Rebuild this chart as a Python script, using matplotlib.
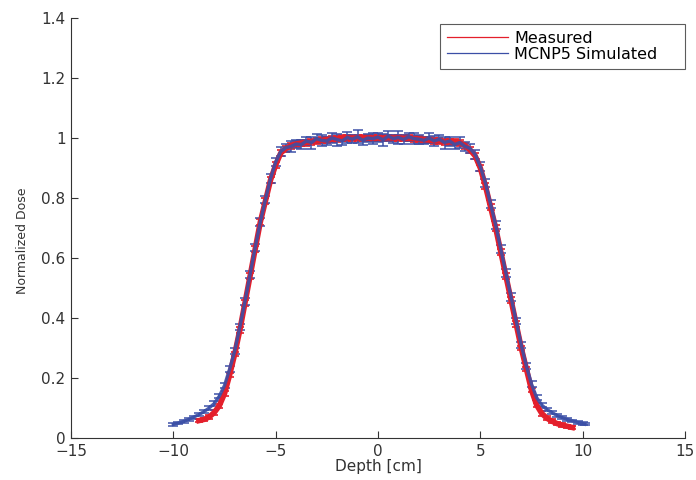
import matplotlib
matplotlib.use("Agg")
import matplotlib.pyplot as plt
from matplotlib.lines import Line2D

# Measured dose profile (red)
meas_depth = [-8.75, -8.5, -8.25, -8.0, -7.75, -7.5, -7.25, -7.0, -6.75, -6.5,
              -6.25, -6.0, -5.75, -5.5, -5.25, -5.0, -4.75, -4.5, -4.25, -4.0,
              -3.75, -3.5, -3.25, -3.0, -2.75, -2.5, -2.25, -2.0, -1.75, -1.5,
              -1.25, -1.0, -0.75, -0.5, -0.25, 0.0, 0.25, 0.5, 0.75, 1.0,
              1.25, 1.5, 1.75, 2.0, 2.25, 2.5, 2.75, 3.0, 3.25, 3.5,
              3.75, 4.0, 4.25, 4.5, 4.75, 5.0, 5.25, 5.5, 5.75, 6.0,
              6.25, 6.5, 6.75, 7.0, 7.25, 7.5, 7.75, 8.0, 8.25, 8.5,
              8.75, 9.0, 9.25, 9.5]
meas_dose = [0.058, 0.062, 0.070, 0.085, 0.108, 0.148, 0.210, 0.280, 0.360, 0.450,
             0.540, 0.630, 0.720, 0.790, 0.860, 0.910, 0.950, 0.965, 0.975, 0.980,
             0.983, 0.985, 0.988, 0.990, 0.992, 0.995, 0.996, 0.998, 0.999, 1.000,
             1.000, 1.000, 1.001, 1.000, 1.000, 1.000, 1.000, 1.001, 1.000, 1.000,
             0.999, 0.999, 0.998, 0.997, 0.995, 0.993, 0.991, 0.990, 0.988, 0.987,
             0.986, 0.984, 0.975, 0.960, 0.940, 0.900, 0.840, 0.770, 0.700, 0.620,
             0.540, 0.460, 0.380, 0.300, 0.230, 0.160, 0.110, 0.082, 0.066, 0.056,
             0.048, 0.043, 0.039, 0.035]
meas_err = [0.006, 0.006, 0.006, 0.007, 0.007, 0.008, 0.008, 0.008, 0.009, 0.009,
            0.009, 0.010, 0.010, 0.010, 0.010, 0.010, 0.010, 0.010, 0.010, 0.010,
            0.010, 0.010, 0.010, 0.010, 0.010, 0.010, 0.010, 0.010, 0.010, 0.010,
            0.010, 0.010, 0.010, 0.010, 0.010, 0.010, 0.010, 0.010, 0.010, 0.010,
            0.010, 0.010, 0.010, 0.010, 0.010, 0.010, 0.010, 0.010, 0.010, 0.010,
            0.010, 0.010, 0.010, 0.010, 0.010, 0.010, 0.010, 0.010, 0.010, 0.010,
            0.009, 0.009, 0.009, 0.008, 0.008, 0.008, 0.007, 0.007, 0.006, 0.006,
            0.006, 0.006, 0.006, 0.006]

# MCNP5 simulated dose profile (blue)
sim_depth = [-10.0, -9.75, -9.5, -9.25, -9.0, -8.75, -8.5, -8.25, -8.0, -7.75,
             -7.5, -7.25, -7.0, -6.75, -6.5, -6.25, -6.0, -5.75, -5.5, -5.25,
             -5.0, -4.75, -4.5, -4.25, -4.0, -3.75, -3.5, -3.25, -3.0, -2.75,
             -2.5, -2.25, -2.0, -1.75, -1.5, -1.25, -1.0, -0.75, -0.5, -0.25,
             0.0, 0.25, 0.5, 0.75, 1.0, 1.25, 1.5, 1.75, 2.0, 2.25,
             2.5, 2.75, 3.0, 3.25, 3.5, 3.75, 4.0, 4.25, 4.5, 4.75,
             5.0, 5.25, 5.5, 5.75, 6.0, 6.25, 6.5, 6.75, 7.0, 7.25,
             7.5, 7.75, 8.0, 8.25, 8.5, 8.75, 9.0, 9.25, 9.5, 9.75,
             10.0, 10.1]
sim_dose = [0.045, 0.050, 0.055, 0.062, 0.070, 0.078, 0.088, 0.100, 0.115, 0.140,
            0.175, 0.230, 0.290, 0.370, 0.455, 0.545, 0.635, 0.720, 0.795, 0.865,
            0.920, 0.955, 0.968, 0.972, 0.980, 0.978, 0.990, 0.985, 0.998, 0.992,
            0.990, 1.000, 0.995, 0.990, 1.002, 0.996, 1.004, 0.992, 1.000, 0.998,
            1.003, 0.994, 1.006, 0.998, 1.002, 0.995, 1.004, 0.998, 0.996, 0.992,
            1.000, 0.990, 0.996, 0.985, 0.990, 0.978, 0.985, 0.972, 0.965, 0.945,
            0.905, 0.850, 0.780, 0.710, 0.630, 0.550, 0.470, 0.390, 0.310, 0.240,
            0.180, 0.135, 0.110, 0.095, 0.085, 0.075, 0.068, 0.062, 0.057, 0.052,
            0.048, 0.046]
sim_err = [0.004, 0.004, 0.004, 0.005, 0.005, 0.005, 0.006, 0.006, 0.007, 0.008,
           0.009, 0.010, 0.011, 0.011, 0.012, 0.012, 0.013, 0.013, 0.013, 0.014,
           0.014, 0.015, 0.012, 0.018, 0.014, 0.016, 0.013, 0.020, 0.015, 0.018,
           0.012, 0.016, 0.020, 0.014, 0.018, 0.013, 0.022, 0.016, 0.014, 0.019,
           0.015, 0.020, 0.017, 0.013, 0.021, 0.016, 0.014, 0.019, 0.015, 0.013,
           0.018, 0.016, 0.014, 0.020, 0.015, 0.013, 0.017, 0.014, 0.015, 0.014,
           0.014, 0.013, 0.013, 0.013, 0.012, 0.012, 0.012, 0.011, 0.011, 0.010,
           0.009, 0.008, 0.007, 0.006, 0.006, 0.005, 0.005, 0.005, 0.004, 0.004,
           0.004, 0.004]

red = "#e41f2b"
blue = "#3b4fa6"
text_color = "#333333"

plt.rcParams["font.family"] = ["DejaVu Sans"]

fig = plt.figure(figsize=(6.96, 4.8), dpi=100)
ax = fig.add_axes([71 / 696, 42 / 480, 614 / 696, 420 / 480])

ax.errorbar(meas_depth, meas_dose, yerr=meas_err, color=red, lw=4.0,
            elinewidth=1.2, capsize=3, capthick=1.2)
ax.errorbar(sim_depth, sim_dose, yerr=sim_err, color=blue, lw=2.4,
            elinewidth=1.2, capsize=3.5, capthick=1.2, alpha=0.9)

ax.set_xlim(-15, 15)
ax.set_ylim(0, 1.4)
ax.set_xticks([-15, -10, -5, 0, 5, 10, 15])
ax.set_xticklabels(["\u221215", "\u221210", "\u22125", "0", "5", "10", "15"])
ax.set_yticks([0, 0.2, 0.4, 0.6, 0.8, 1.0, 1.2, 1.4])
ax.set_yticklabels(["0", "0.2", "0.4", "0.6", "0.8", "1", "1.2", "1.4"])

for s in ["top", "right"]:
    ax.spines[s].set_visible(False)
for s in ["left", "bottom"]:
    ax.spines[s].set_color(text_color)
    ax.spines[s].set_linewidth(0.8)
ax.tick_params(direction="in", length=5, width=0.8, colors=text_color,
               labelsize=11, pad=4)

ax.set_xlabel("Depth [cm]", fontsize=11, color=text_color, labelpad=0)
ax.set_ylabel("Normalized Dose", fontsize=9, color=text_color, labelpad=9)
ax.yaxis.label.set_y(0.47)

handles = [Line2D([], [], color=red, lw=0.9), Line2D([], [], color=blue, lw=0.9)]
leg = ax.legend(handles, ["Measured", "MCNP5 Simulated"], loc="upper left",
                mode="expand", bbox_to_anchor=(0.601, 0.876, 0.399, 0.11),
                fontsize=11.5, frameon=True, fancybox=False, handlelength=3.8,
                handletextpad=0.4, borderpad=0.45, labelspacing=0.05,
                borderaxespad=0)
leg.get_frame().set_edgecolor(text_color)
leg.get_frame().set_linewidth(0.8)

fig.savefig("out.png", dpi=100)
